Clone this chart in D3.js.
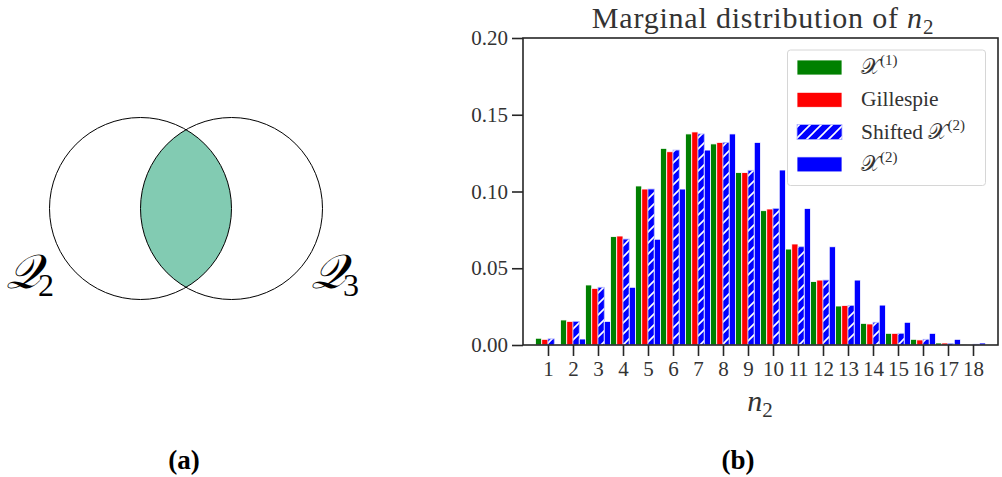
<!DOCTYPE html>
<html>
<head>
<meta charset="utf-8">
<script src="https://cdn.jsdelivr.net/npm/d3@7"></script>
<style>
  html, body { margin: 0; padding: 0; background: #fff; }
  svg { display: block; }
  text { font-family: "Liberation Serif", "DejaVu Serif", serif; }
</style>
</head>
<body>
<svg id="fig" width="1002" height="477"></svg>
<script>
// Categories: copy number n2
const categories = [1, 2, 3, 4, 5, 6, 7, 8, 9, 10, 11, 12, 13, 14, 15, 16, 17, 18];

// Marginal probabilities for each method
const x1Values = [0.0044, 0.0163, 0.0391, 0.0706, 0.1036, 0.1281, 0.1375, 0.1310, 0.1123, 0.0875,
                  0.0625, 0.0413, 0.0254, 0.0141, 0.0076, 0.0037, 0.0013, 0.0002];
const gillespieValues = [0.0037, 0.0154, 0.0369, 0.0710, 0.1016, 0.1259, 0.1388, 0.1320, 0.1123, 0.0886,
                         0.0658, 0.0423, 0.0258, 0.0137, 0.0076, 0.0033, 0.0013, 0.0003];
const shiftedX2Values = [0.0040, 0.0154, 0.0376, 0.0690, 0.1016, 0.1270, 0.1375, 0.1320, 0.1138, 0.0890,
                         0.0640, 0.0423, 0.0258, 0.0148, 0.0076, 0.0037, 0.0010, 0.0005];
const x2Values = [0.0005, 0.0039, 0.0154, 0.0376, 0.0689, 0.1016, 0.1270, 0.1375, 0.1320, 0.1140,
                  0.0890, 0.0640, 0.0423, 0.0260, 0.0148, 0.0076, 0.0037, 0.0013];

const yTicks = [0.00, 0.05, 0.10, 0.15, 0.20];

const series = [
  { name: "x1", values: x1Values, color: "#008000", hatch: false, offset: -0.375 },
  { name: "gillespie", values: gillespieValues, color: "#ff0000", hatch: false, offset: -0.125 },
  { name: "shifted", values: shiftedX2Values, color: "#0000ff", hatch: true, offset: 0.125 },
  { name: "x2", values: x2Values, color: "#0000ff", hatch: false, offset: 0.375 }
];

const svg = d3.select("#fig");
const defs = svg.append("defs");

// diagonal white hatch on blue
const pat = defs.append("pattern")
  .attr("id", "hatch")
  .attr("patternUnits", "userSpaceOnUse")
  .attr("width", 11).attr("height", 11);
pat.append("rect").attr("width", 11).attr("height", 11).attr("fill", "#0000ff");
pat.append("path")
  .attr("d", "M-2,13 L13,-2 M-2,2 L2,-2 M9,13 L13,9")
  .attr("stroke", "#ffffff").attr("stroke-width", 1.6);

// ---------- (a) Venn diagram ----------
const venn = svg.append("g");
const r = 91;
const c1 = [140.5, 208.5], c2 = [231.5, 208.5];
defs.append("clipPath").attr("id", "clipLeft")
  .append("circle").attr("cx", c1[0]).attr("cy", c1[1]).attr("r", r);
venn.append("circle")
  .attr("cx", c2[0]).attr("cy", c2[1]).attr("r", r)
  .attr("fill", "#82cbb2")
  .attr("clip-path", "url(#clipLeft)");
[c1, c2].forEach(c => {
  venn.append("circle")
    .attr("cx", c[0]).attr("cy", c[1]).attr("r", r)
    .attr("fill", "none").attr("stroke", "#000").attr("stroke-width", 1);
});
function calLabel(g, x, y, sub) {
  const t = g.append("text").attr("x", x).attr("y", y)
    .attr("font-size", 48).attr("fill", "#000");
  t.append("tspan").attr("font-style", "italic").text("𝒬");
  t.append("tspan").attr("font-size", 32).attr("dx", -2).attr("dy", 8).text(sub);
}
calLabel(venn, 6, 288, "2");
calLabel(venn, 311, 288, "3");
svg.append("text").attr("x", 184).attr("y", 469)
  .attr("text-anchor", "middle").attr("font-size", 27).attr("font-weight", "bold")
  .text("(a)");

// ---------- (b) bar chart ----------
const x = d3.scaleLinear().domain([0, 19]).range([523, 998]);
const y = d3.scaleLinear().domain([0, 0.2]).range([345, 38]);
const bw = x(0.25) - x(0);

const plot = svg.append("g");
series.forEach(s => {
  plot.append("g").selectAll("rect")
    .data(s.values.map((v, i) => ({ n: categories[i], v })))
    .join("rect")
    .attr("x", d => x(d.n + s.offset - 0.125))
    .attr("width", bw)
    .attr("y", d => y(d.v))
    .attr("height", d => y(0) - y(d.v))
    .attr("fill", s.hatch ? "url(#hatch)" : s.color)
    .attr("stroke", s.hatch ? "#b4b8ff" : "#ffffff")
    .attr("stroke-width", 0.8);
});

// frame
const axCol = "#262626";
plot.append("rect")
  .attr("x", x(0)).attr("y", y(0.2))
  .attr("width", x(19) - x(0)).attr("height", y(0) - y(0.2))
  .attr("fill", "none").attr("stroke", axCol).attr("stroke-width", 1.6);

// axes
const yAxis = svg.append("g").attr("transform", `translate(${x(0)},0)`)
  .call(d3.axisLeft(y).tickValues(yTicks).tickFormat(d3.format(".2f")).tickSize(11).tickPadding(4));
const xAxis = svg.append("g").attr("transform", `translate(0,${y(0)})`)
  .call(d3.axisBottom(x).tickValues(categories).tickFormat(d3.format("d")).tickSize(11).tickPadding(5));
[yAxis, xAxis].forEach(a => {
  a.select(".domain").remove();
  a.selectAll(".tick line").attr("stroke", axCol).attr("stroke-width", 1.6);
  a.selectAll(".tick text").attr("fill", "#333333").attr("font-size", 21)
    .attr("font-family", "'Liberation Serif', serif");
});

// title
const title = svg.append("text").attr("x", 763).attr("y", 28)
  .attr("text-anchor", "middle").attr("font-size", 30).attr("letter-spacing", 0.8)
  .attr("fill", "#333333");
title.append("tspan").text("Marginal distribution of ");
title.append("tspan").attr("font-style", "italic").text("n");
title.append("tspan").attr("font-size", 21).attr("dy", 6).text("2");

// x label
const xl = svg.append("text").attr("x", 760).attr("y", 411)
  .attr("text-anchor", "middle").attr("font-size", 30).attr("fill", "#333333");
xl.append("tspan").attr("font-style", "italic").text("n");
xl.append("tspan").attr("font-size", 21).attr("dy", 6).text("2");

// legend
const lg = svg.append("g");
lg.append("rect")
  .attr("x", 787.5).attr("y", 50).attr("width", 198).attr("height", 135.5)
  .attr("rx", 3).attr("fill", "#ffffff").attr("fill-opacity", 0.85)
  .attr("stroke", "#d6d6d6").attr("stroke-width", 1);
const legendItems = [
  { s: series[0], label: [["𝒳", false], ["(1)", true]] },
  { s: series[1], label: [["Gillespie", false]] },
  { s: series[2], label: [["Shifted 𝒳", false], ["(2)", true]] },
  { s: series[3], label: [["𝒳", false], ["(2)", true]] }
];
legendItems.forEach((it, i) => {
  const cy = 67 + i * 32.3;
  lg.append("rect")
    .attr("x", 797).attr("y", cy - 7).attr("width", 45).attr("height", 15)
    .attr("fill", it.s.hatch ? "url(#hatch)" : it.s.color)
    .attr("stroke", it.s.hatch ? "#b4b8ff" : "#ffffff").attr("stroke-width", 0.8);
  const t = lg.append("text").attr("x", 861).attr("y", cy + 7)
    .attr("font-size", 21.5).attr("fill", "#333333");
  it.label.forEach(([txt, sup]) => {
    const sp = t.append("tspan").text(txt);
    if (sup) sp.attr("font-size", 15).attr("dy", -9);
  });
});

svg.append("text").attr("x", 738).attr("y", 469)
  .attr("text-anchor", "middle").attr("font-size", 27).attr("font-weight", "bold")
  .text("(b)");
</script>
</body>
</html>
